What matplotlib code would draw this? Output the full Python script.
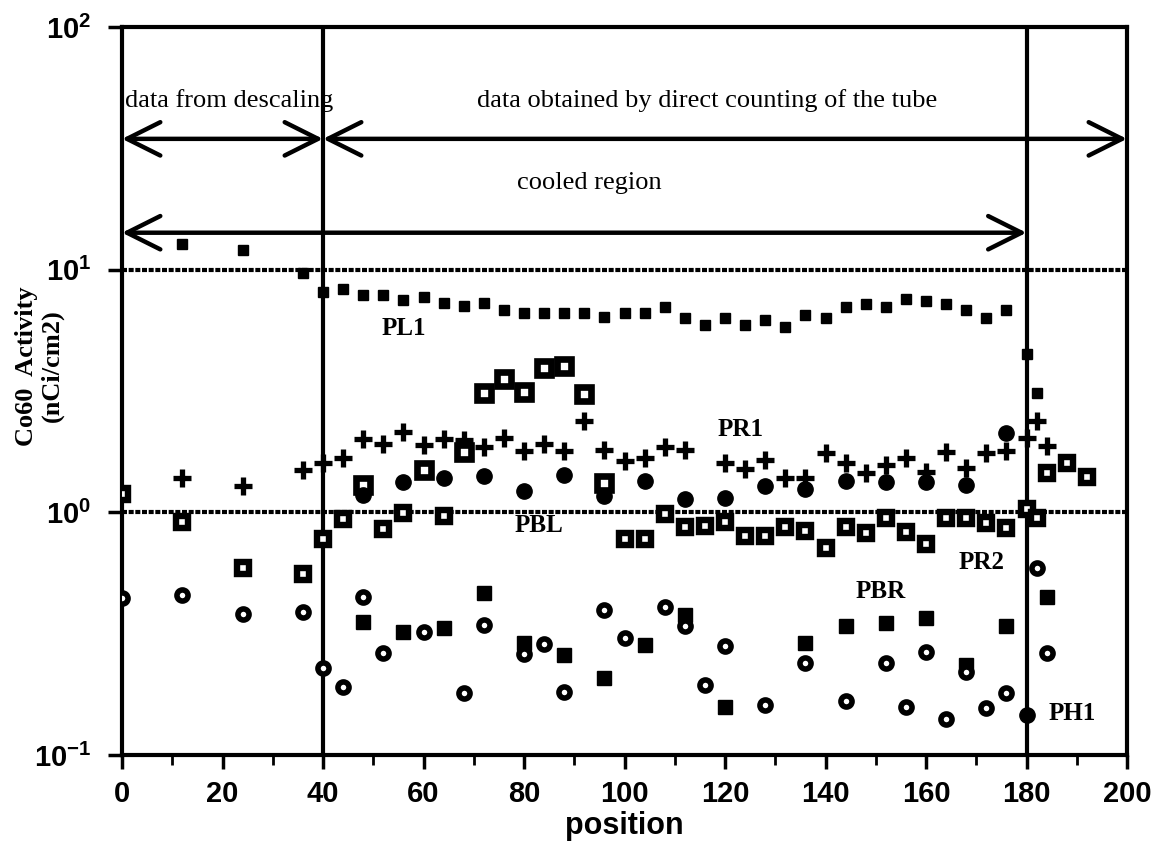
import numpy as np
import matplotlib.pyplot as plt
from matplotlib.ticker import MultipleLocator, NullLocator

plt.rcParams['mathtext.fontset'] = 'custom'
plt.rcParams['mathtext.rm'] = 'Liberation Sans:bold'
plt.rcParams['mathtext.it'] = 'Liberation Sans:bold'
plt.rcParams['mathtext.bf'] = 'Liberation Sans:bold'

# --------------------------
# data
# --------------------------
# PL1, small filled squares
pl1_x = [12, 24, 36, 40, 44, 48, 52, 56, 60, 64, 68, 72, 76, 80, 84, 88, 92, 96, 100,
         104, 108, 112, 116, 120, 124, 128, 132, 136, 140, 144, 148, 152, 156, 160,
         164, 168, 172, 176, 180, 182]
pl1_y = [12.8, 12.1, 9.7, 8.1, 8.3, 7.9, 7.9, 7.5, 7.7, 7.3, 7.1, 7.3, 6.8, 6.6, 6.6,
         6.6, 6.6, 6.4, 6.6, 6.6, 7.0, 6.3, 5.9, 6.3, 5.9, 6.2, 5.8, 6.5, 6.3, 7.0,
         7.2, 7.0, 7.6, 7.4, 7.2, 6.8, 6.3, 6.8, 4.5, 3.1]

# PR1, plus signs
pr1_x = [12, 24, 36, 40, 44, 48, 52, 56, 60, 64, 68, 72, 76, 80, 84, 88, 92, 96, 100,
         104, 108, 112, 120, 124, 128, 132, 136, 140, 144, 148, 152, 156, 160, 164,
         168, 172, 176, 180, 182, 184]
pr1_y = [1.39, 1.28, 1.49, 1.6, 1.68, 2.0, 1.92, 2.15, 1.89, 2.0, 1.98, 1.85, 2.02,
         1.79, 1.91, 1.79, 2.39, 1.8, 1.62, 1.67, 1.86, 1.8, 1.59, 1.51, 1.64, 1.39,
         1.38, 1.75, 1.6, 1.45, 1.56, 1.67, 1.46, 1.78, 1.53, 1.75, 1.79, 2.02, 2.37,
         1.87]

# open squares around 1
osq_x = [0, 12, 24, 36, 40, 44, 52, 56, 64, 100, 104, 108, 112, 116, 120, 124, 128,
         132, 136, 140, 144, 148, 152, 156, 160, 164, 168, 172, 176, 180, 182, 184,
         188, 192]
osq_y = [1.19, 0.91, 0.59, 0.556, 0.78, 0.94, 0.85, 0.99, 0.97, 0.78, 0.78, 0.98,
         0.87, 0.88, 0.91, 0.80, 0.80, 0.87, 0.84, 0.71, 0.87, 0.82, 0.95, 0.83,
         0.74, 0.95, 0.95, 0.90, 0.86, 1.03, 0.95, 1.45, 1.6, 1.4]

# open squares, upper group
osq2_x = [48, 60, 68, 72, 76, 80, 84, 88, 92, 96]
osq2_y = [1.3, 1.49, 1.77, 3.09, 3.56, 3.12, 3.92, 3.99, 3.06, 1.32]

# filled circles
dot_x = [48, 56, 64, 72, 80, 88, 96, 104, 112, 120, 128, 136, 144, 152, 160, 168, 176]
dot_y = [1.18, 1.33, 1.38, 1.41, 1.23, 1.42, 1.17, 1.34, 1.14, 1.15, 1.28, 1.25,
         1.35, 1.33, 1.33, 1.29, 2.13]

# big filled squares
bsq_x = [48, 56, 64, 72, 80, 88, 96, 104, 112, 120, 136, 144, 152, 160, 168, 176, 184]
bsq_y = [0.352, 0.32, 0.333, 0.463, 0.29, 0.258, 0.207, 0.284, 0.376, 0.158, 0.289,
         0.34, 0.35, 0.366, 0.235, 0.34, 0.447]

# open circles
ring_x = [0, 12, 24, 36, 40, 44, 48, 52, 60, 68, 72, 80, 84, 88, 96, 100, 108, 112,
          116, 120, 128, 136, 144, 152, 156, 160, 164, 168, 172, 176, 182, 184]
ring_y = [0.443, 0.455, 0.38, 0.39, 0.228, 0.19, 0.447, 0.263, 0.32, 0.18, 0.343,
          0.26, 0.286, 0.182, 0.395, 0.303, 0.407, 0.34, 0.194, 0.281, 0.16, 0.24,
          0.167, 0.239, 0.158, 0.265, 0.141, 0.22, 0.156, 0.18, 0.59, 0.263]
ring_fill_x = [180]
ring_fill_y = [0.146]

# series names and where they sit
names = ['PL1', 'PR1', 'PBL', 'PR2', 'PBR', 'PH1']
name_x = [56, 123, 83, 171, 151, 189]
name_y = [5.7, 2.2, 0.88, 0.62, 0.47, 0.148]

# --------------------------
# figure
# --------------------------
fig = plt.figure(figsize=(11.58, 8.43), dpi=100)
ax = fig.add_axes([122/1158, 1-755/843, (1127-122)/1158, (755-27)/843])

ax.set_yscale('log')
ax.set_xlim(0, 200)
ax.set_ylim(0.1, 100)

# grid lines and region borders
for yv in [1, 10]:
    ax.axhline(yv, color='k', lw=3, ls=(0, (1.2, 0.4)), zorder=1)
for xv in [40, 180]:
    ax.axvline(xv, color='k', lw=3, zorder=1)

ax.plot(pl1_x, pl1_y, 's', color='k', ms=7.5, zorder=3)
ax.plot(pr1_x, pr1_y, '+', color='k', ms=13, mew=3.8, zorder=3)
ax.plot(osq_x, osq_y, 's', mfc='white', mec='k', ms=9, mew=4.6, zorder=3)
ax.plot(osq2_x, osq2_y, 's', mfc='white', mec='k', ms=10, mew=4.8, zorder=3)
ax.plot(dot_x, dot_y, 'o', color='k', ms=11, zorder=3)
ax.plot(bsq_x, bsq_y, 's', color='k', ms=10.5, zorder=3)
ax.plot(ring_x, ring_y, 'o', mfc='white', mec='k', ms=8, mew=4, zorder=3)
ax.plot(ring_fill_x, ring_fill_y, 'o', color='k', ms=11, zorder=3)

for n, xx, yy in zip(names, name_x, name_y):
    ax.text(xx, yy, n, ha='center', va='center', family='Liberation Serif',
            weight='bold', size=18)

# region arrows
arrow = dict(arrowstyle='<->,head_length=1.2,head_width=0.6', lw=3.2, color='k',
             mutation_scale=20, shrinkA=0, shrinkB=0)
ax.annotate('', xy=(0, 34.6), xytext=(40, 34.6), arrowprops=arrow, annotation_clip=False)
ax.annotate('', xy=(40, 34.6), xytext=(200, 34.6), arrowprops=arrow, annotation_clip=False)
ax.annotate('', xy=(0, 14.2), xytext=(180, 14.2), arrowprops=arrow, annotation_clip=False)

ax.text(0.5, 49.6, 'data from descaling', ha='left', va='center',
        family='Liberation Serif', size=19)
ax.text(116.5, 49.6, 'data obtained by direct counting of the tube', ha='center',
        va='center', family='Liberation Serif', size=19)
ax.text(93, 22.8, 'cooled region', ha='center', va='center',
        family='Liberation Serif', size=19)

# axes look
for s in ax.spines.values():
    s.set_linewidth(3)
ax.xaxis.set_major_locator(MultipleLocator(20))
ax.xaxis.set_minor_locator(MultipleLocator(10))
ax.set_yticks([0.1, 1, 10, 100])
ax.set_yticklabels([r'$10^{-1}$', r'$10^{0}$', r'$10^{1}$', r'$10^{2}$'])
ax.yaxis.set_minor_locator(NullLocator())
ax.tick_params(which='major', direction='out', length=10, width=2.5, labelsize=21)
ax.tick_params(which='minor', direction='out', length=7, width=2)
ax.tick_params(axis='x', pad=8)
ax.tick_params(axis='y', pad=12, labelsize=21)
for lab in ax.get_xticklabels():
    lab.set_family('Liberation Sans')
    lab.set_weight('bold')

fig.text(0.034, 0.566, 'Co60  Activity\n(nCi/cm2)', rotation=90, ha='center',
         va='center', multialignment='center', family='Liberation Serif',
         weight='bold', size=19, linespacing=1.1)
fig.text(0.539, 0.02, 'position', ha='center', va='center', family='Liberation Sans',
         weight='bold', size=22)

fig.savefig('out.png', dpi=100)
